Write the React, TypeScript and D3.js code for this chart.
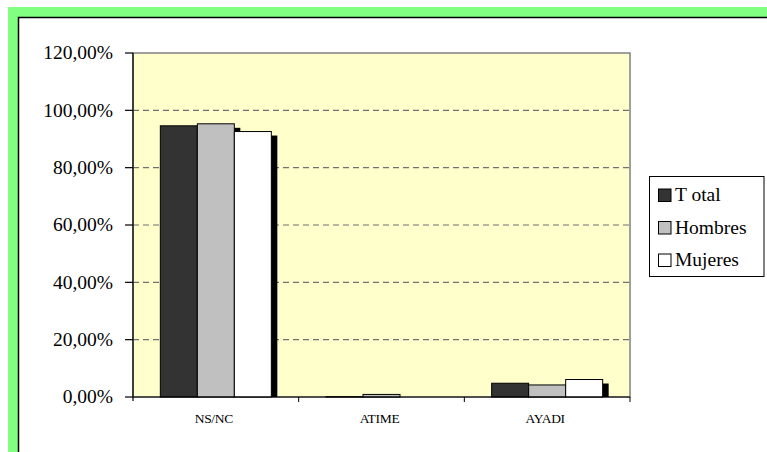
import React from "react";
import * as d3 from "d3";

const categories = ["NS/NC", "ATIME", "AYADI"];
const series = ["Total", "Hombres", "Mujeres"];
const totalValues = [94.6, 0.1, 4.8];
const hombresValues = [95.3, 0.9, 4.2];
const mujeresValues = [92.6, 0, 6.1];
const yTicks = [0, 20, 40, 60, 80, 100, 120];

const seriesValues = [totalValues, hombresValues, mujeresValues];
const seriesColors = ["#333333", "#c0c0c0", "#ffffff"];

const fmt = (v: number) => v.toFixed(2).replace(".", ",") + "%";

export default function App() {
  const width = 767;
  const height = 452;
  const plot = { left: 133, right: 630, top: 53, bottom: 397 };

  // escala de categorías
  const x = d3
    .scaleBand<string>()
    .domain(categories)
    .range([plot.left, plot.right])
    .padding(0);

  const groupWidth = 111;
  const xs = d3.scaleBand<string>().domain(series).range([0, groupWidth]);

  const y = d3.scaleLinear().domain([0, 120]).range([plot.bottom, plot.top]);

  const barX = (cat: string, s: string) =>
    (x(cat) ?? 0) + x.bandwidth() / 2 - groupWidth / 2 + (xs(s) ?? 0);

  const serif = { fontFamily: "Liberation Serif, DejaVu Serif, serif" };

  return (
    <svg
      width={width}
      height={height}
      style={{ position: "fixed", left: 0, top: 0 }}
    >
      <rect x={0} y={0} width={width} height={height} fill="#ffffff" />
      {/* marco verde */}
      <rect x={8} y={7} width={width} height={height} fill="#80ff80" />
      <rect x={18.5} y={17.5} width={width} height={height} fill="#ffffff" stroke="#000" strokeWidth={1.5} />

      {/* área de trazado */}
      <rect
        x={plot.left}
        y={plot.top}
        width={plot.right - plot.left}
        height={plot.bottom - plot.top}
        fill="#ffffcc"
        stroke="#808080"
        strokeWidth={1.5}
      />

      {/* rejilla */}
      {yTicks
        .filter((t) => t > 0 && t < 120)
        .map((t) => (
          <line
            key={t}
            x1={plot.left}
            x2={plot.right}
            y1={y(t)}
            y2={y(t)}
            stroke="#707070"
            strokeWidth={1.2}
            strokeDasharray="6,4"
          />
        ))}

      {/* sombras */}
      {series.map((s, si) =>
        categories.map((c, ci) => {
          const v = seriesValues[si][ci];
          if (v <= 0) return null;
          return (
            <rect
              key={`sh-${s}-${c}`}
              x={barX(c, s) + 6}
              y={y(v) + 4}
              width={xs.bandwidth()}
              height={Math.max(0, plot.bottom - y(v) - 4)}
              fill="#000"
            />
          );
        })
      )}

      {/* barras */}
      {series.map((s, si) =>
        categories.map((c, ci) => {
          const v = seriesValues[si][ci];
          if (v <= 0) return null;
          return (
            <rect
              key={`b-${s}-${c}`}
              x={barX(c, s)}
              y={y(v)}
              width={xs.bandwidth()}
              height={plot.bottom - y(v)}
              fill={seriesColors[si]}
              stroke="#000"
              strokeWidth={1}
            />
          );
        })
      )}

      {/* eje Y */}
      <line x1={plot.left} x2={plot.left} y1={plot.top} y2={plot.bottom + 4} stroke="#000" strokeWidth={1.2} />
      {yTicks.map((t) => (
        <g key={t}>
          <line x1={plot.left - 8} x2={plot.left} y1={y(t)} y2={y(t)} stroke="#000" strokeWidth={1.2} />
          <text
            x={113}
            y={y(t)}
            dy="0.33em"
            textAnchor="end"
            style={serif}
            fontSize={19.5}
            fill="#000"
          >
            {fmt(t)}
          </text>
        </g>
      ))}

      {/* eje X */}
      <line x1={plot.left} x2={plot.right} y1={plot.bottom} y2={plot.bottom} stroke="#000" strokeWidth={1.2} />
      {categories.slice(1).map((c) => (
        <line
          key={c}
          x1={x(c) ?? 0}
          x2={x(c) ?? 0}
          y1={plot.bottom}
          y2={plot.bottom + 5}
          stroke="#000"
          strokeWidth={1}
        />
      ))}
      <line x1={plot.right} x2={plot.right} y1={plot.bottom} y2={plot.bottom + 5} stroke="#000" strokeWidth={1} />
      {categories.map((c) => (
        <text
          key={c}
          x={(x(c) ?? 0) + x.bandwidth() / 2 - 2}
          y={422.5}
          textAnchor="middle"
          style={serif}
          fontSize={13.5}
          letterSpacing={-0.3}
          fill="#000"
        >
          {c}
        </text>
      ))}

      {/* leyenda */}
      <g>
        <rect x={649.5} y={176.5} width={114.5} height={100} fill="#fff" stroke="#000" strokeWidth={1} />
        {series.map((s, i) => {
          const cy = 195 + i * 32.5;
          return (
            <g key={s}>
              <rect x={658.5} y={cy - 6} width={12.5} height={12.5} fill={seriesColors[i]} stroke="#000" strokeWidth={1} />
              <text x={675} y={cy + 6} style={serif} fontSize={19.5} fill="#000">
                {s === "Total" ? "T otal" : s}
              </text>
            </g>
          );
        })}
      </g>
    </svg>
  );
}
